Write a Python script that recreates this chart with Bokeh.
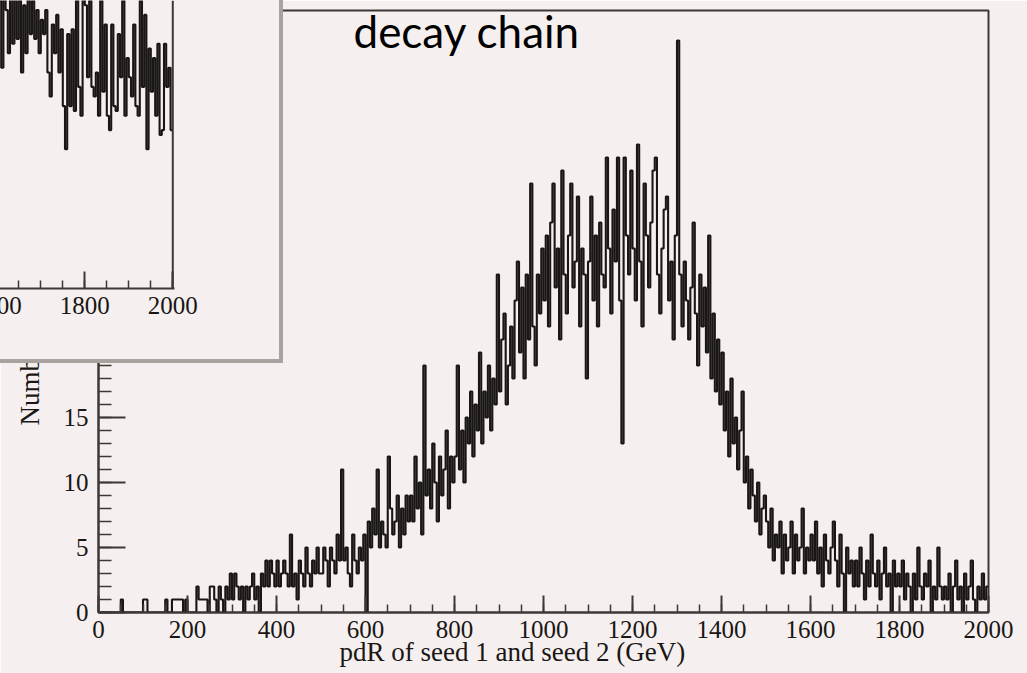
import math
from bokeh.plotting import figure
from bokeh.models import SingleIntervalTicker, Label, Span, GridBox, Column, Range1d
from bokeh.embed import file_html
from bokeh.resources import INLINE

# ---------------- data ----------------
bin_width = 5  # GeV
x_tick_labels = [0, 200, 400, 600, 800, 1000, 1200, 1400, 1600, 1800, 2000]
y_tick_labels = [0, 5, 10, 15, 20, 25, 30, 35, 40, 45]

# main histogram: entries per 5 GeV bin, 0 .. 2000 GeV
counts = [
    0, 0, 0, 0, 0, 0, 0, 0, 0, 0, 1, 0, 0, 0, 0, 0, 0, 0, 0, 0,
    1, 1, 0, 0, 0, 0, 0, 0, 0, 0, 1, 0, 0, 1, 1, 1, 1, 1, 0, 1,
    0, 0, 0, 0, 2, 1, 1, 1, 1, 0, 2, 2, 1, 0, 2, 1, 0, 2, 1, 3,
    1, 3, 2, 1, 2, 0, 2, 1, 2, 3, 1, 2, 0, 3, 2, 4, 2, 4, 3, 2,
    4, 2, 3, 4, 3, 2, 6, 2, 3, 1, 4, 3, 2, 5, 3, 2, 4, 3, 5, 3,
    3, 5, 4, 2, 5, 4, 3, 6, 4, 11, 4, 5, 3, 2, 6, 4, 3, 5, 4, 6,
    0, 7, 5, 8, 6, 11, 5, 7, 6, 5, 12, 8, 6, 7, 9, 5, 8, 6, 9, 7,
    9, 7, 12, 8, 10, 6, 19, 9, 11, 8, 13, 10, 7, 12, 9, 11, 14, 8, 12, 10,
    12, 19, 11, 14, 10, 15, 13, 17, 12, 16, 14, 20, 13, 17, 15, 19, 14, 18, 16, 26,
    17, 21, 23, 16, 19, 22, 18, 24, 27, 20, 25, 18, 26, 21, 33, 22, 19, 26, 23, 28,
    24, 29, 22, 30, 33, 25, 28, 21, 34, 26, 23, 29, 33, 25, 27, 32, 22, 28, 26, 18,
    27, 32, 24, 29, 22, 30, 26, 25, 35, 28, 23, 31, 27, 35, 24, 13, 35, 29, 26, 34,
    28, 24, 36, 27, 22, 33, 29, 25, 30, 34, 35, 26, 23, 28, 31, 32, 24, 27, 21, 29,
    44, 26, 22, 27, 24, 21, 25, 30, 23, 19, 26, 22, 25, 20, 29, 18, 23, 17, 21, 16,
    20, 14, 17, 12, 18, 13, 15, 11, 14, 17, 10, 12, 8, 11, 9, 7, 10, 6, 8, 9,
    7, 5, 8, 4, 6, 5, 7, 3, 6, 4, 5, 7, 3, 6, 4, 5, 8, 3, 5, 4,
    6, 4, 7, 3, 5, 2, 6, 4, 3, 5, 7, 4, 2, 6, 3, 0, 5, 3, 4, 2,
    4, 2, 5, 3, 1, 4, 2, 6, 3, 2, 4, 1, 3, 5, 2, 3, 0, 4, 2, 3,
    2, 4, 1, 3, 2, 0, 3, 1, 5, 2, 1, 3, 2, 4, 0, 2, 1, 5, 2, 1,
    2, 1, 3, 0, 2, 4, 1, 2, 0, 3, 1, 2, 4, 1, 0, 2, 1, 3, 1, 2,
]

# inset histogram (only its right-hand part, 1600 .. 2000 GeV, is visible)
inset_start = 1600
inset_counts = [
    62, 60, 46, 61, 58, 49, 63, 51, 64, 52, 60, 45, 59, 49, 62, 53, 60, 52, 58, 49,
    56, 53, 58, 45, 40, 55, 49, 57, 45, 54, 38, 29, 53, 38, 54, 37, 60, 42, 36, 61,
    59, 44, 60, 42, 40, 45, 36, 60, 41, 55, 36, 33, 55, 38, 37, 53, 44, 60, 36, 48,
    44, 40, 55, 38, 36, 60, 42, 57, 29, 50, 41, 48, 36, 51, 32, 33, 51, 42, 46, 33,
]

title_text = "decay chain"
x_title = "pdR of seed 1 and seed 2 (GeV)"
y_title = "Number of events"

# ---------------- style ----------------
BG = "#f5f0ef"
INK = "#1a1614"
AX = "#3d3836"
FRAME_GRAY = "#aaa29f"
SERIF = "Liberation Serif"
HIST_W = 2.1

edges = [i * bin_width for i in range(len(counts) + 1)]
step_y = counts + [counts[-1]]


def style_axis(ax, tick_in, minor_in):
    ax.axis_line_color = AX
    ax.axis_line_width = 2
    ax.major_tick_line_color = AX
    ax.major_tick_line_width = 2
    ax.minor_tick_line_color = AX
    ax.minor_tick_line_width = 1.5
    ax.major_tick_out = 0
    ax.minor_tick_out = 0
    ax.major_tick_in = tick_in
    ax.minor_tick_in = minor_in
    ax.major_label_text_font = SERIF
    ax.major_label_text_font_size = "25px"
    ax.major_label_text_color = INK


p = figure(width=1027, height=673,
           x_range=Range1d(0, 2000), y_range=Range1d(0, 602 / 13),
           output_backend="svg", toolbar_location=None,
           min_border_left=98, min_border_right=39,
           min_border_top=10, min_border_bottom=61,
           background_fill_color=BG, border_fill_color=BG)
p.xgrid.visible = False
p.ygrid.visible = False
p.outline_line_color = AX
p.outline_line_width = 2

p.xaxis.ticker = SingleIntervalTicker(interval=200, num_minor_ticks=4)
p.yaxis.ticker = SingleIntervalTicker(interval=5, num_minor_ticks=5)
style_axis(p.xaxis[0], 17, 8)
style_axis(p.yaxis[0], 27, 13)
p.xaxis.major_label_standoff = 8
p.yaxis.major_label_standoff = 10

p.step(x=edges, y=step_y, mode="after", line_color=INK, line_width=HIST_W)

p.add_layout(Label(x=573, y=44.7, text=title_text, text_font="Lato",
                   text_font_size="44px", text_color="#000000",
                   text_baseline="alphabetic"))

# ---------------- transparent text layer for the axis titles ----------------
ov = figure(width=1027, height=673,
            x_range=Range1d(0, 1027), y_range=Range1d(673, 0),
            output_backend="svg", toolbar_location=None,
            min_border_left=0, min_border_right=0,
            min_border_top=0, min_border_bottom=0,
            x_axis_location=None, y_axis_location=None,
            background_fill_color=None, border_fill_color=None)
ov.outline_line_color = None
ov.xgrid.visible = False
ov.ygrid.visible = False
ov.add_layout(Label(x=339, y=651, text=x_title, text_font=SERIF,
                    text_font_size="27px", text_color=INK,
                    text_baseline="alphabetic"))
ov.add_layout(Label(x=29, y=425, text=y_title, angle=math.pi / 2,
                    text_font=SERIF, text_font_size="27px", text_color=INK,
                    text_baseline="alphabetic"))
ov_box = Column(children=[ov])

# ---------------- inset ----------------
in_edges = [inset_start + i * bin_width for i in range(len(inset_counts) + 1)]
in_step_y = inset_counts + [inset_counts[-1]]

ins = figure(width=309, height=359,
             x_range=Range1d(1540.2, 2003.9), y_range=Range1d(0, 60),
             output_backend="svg", toolbar_location=None,
             min_border_left=0, min_border_right=105,
             min_border_top=0, min_border_bottom=71,
             y_axis_location=None,
             background_fill_color=BG, border_fill_color=BG)
ins.xgrid.visible = False
ins.ygrid.visible = False
ins.outline_line_color = None
ins.xaxis.ticker = SingleIntervalTicker(interval=200, num_minor_ticks=4)
style_axis(ins.xaxis[0], 17, 8)
ins.xaxis.major_label_standoff = 8

ins.step(x=in_edges, y=in_step_y, mode="after", line_color=INK, line_width=HIST_W)
ins.add_layout(Span(location=2000, dimension="height", line_color=AX, line_width=2))

inset_box = Column(children=[ins],
                   styles={"border-right": f"4px solid {FRAME_GRAY}",
                           "border-bottom": f"4px solid {FRAME_GRAY}",
                           "background-color": BG,
                           "margin-left": "-30px"})

root = GridBox(children=[(p, 0, 0), (ov_box, 0, 0), (inset_box, 0, 0)])

open("out.html", "w").write(file_html(root, INLINE))
